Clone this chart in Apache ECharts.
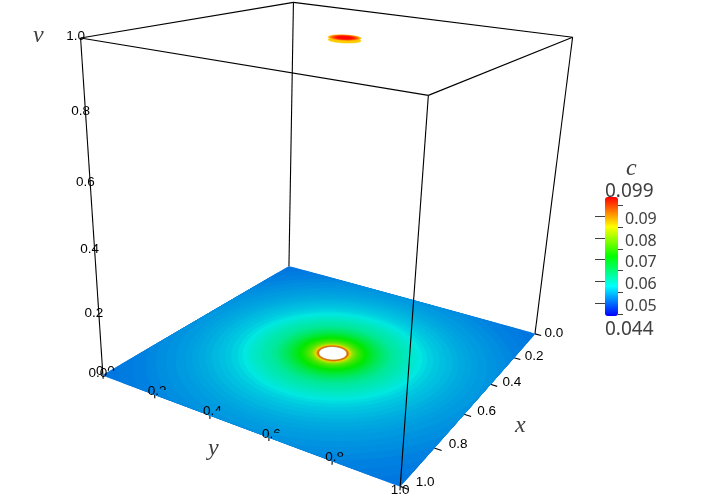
<!DOCTYPE html>
<html><head><meta charset="utf-8">
<style>html,body{margin:0;padding:0;background:#fff}#c{width:718px;height:495px}</style>
<script src="https://cdn.jsdelivr.net/npm/echarts@6/dist/echarts.min.js"></script>
</head><body><div id="c"></div>
<script>
// ---- values ----
const axisValues = [0, 0.2, 0.4, 0.6, 0.8, 1];
const axisLabels = ['0.0', '0.2', '0.4', '0.6', '0.8', '1.0'];
const barMajor = [0.05, 0.06, 0.07, 0.08, 0.09];
const barMinor = [0.045, 0.055, 0.065, 0.075, 0.085, 0.095];
const cMin = 0.044, cMax = 0.099;
// floor (v = 0): c against radius from the tube at x = y = 0.5
const floorRadii = [0.75,0.70,0.66,0.62,0.58,0.55,0.52,0.49,0.46,0.44,0.42,0.40,0.38,0.36,0.34,0.32,0.30,0.285,0.27,0.255,0.24,0.225,0.21,0.195,0.18,0.17,0.16,0.15,0.14,0.13,0.12,0.11,0.10,0.092,0.085,0.078,0.072,0.066,0.061,0.056,0.052,0.049];
const floorC =     [0.0508,0.0510,0.0513,0.0516,0.0520,0.0524,0.0528,0.0531,0.0535,0.0538,0.0541,0.0545,0.0549,0.0553,0.0558,0.0564,0.0571,0.0578,0.0585,0.0593,0.0600,0.0607,0.0614,0.0622,0.0632,0.0640,0.0650,0.0660,0.0672,0.0685,0.0698,0.0712,0.0727,0.0738,0.0750,0.0764,0.0780,0.0797,0.0817,0.0855,0.0890,0.0925];
const holeRadius = [0.045];
// top (v = 1): the small cap of the tube
const rimRadii = [0.046];
const rimC = [0.0880];
const topRadii = [0.046,0.040,0.034,0.028,0.022];
const topC =     [0.0890,0.0925,0.0950,0.0970,0.0985];

// ---- camera: fitted through the corners of the unit box ----
const boxCorners = [
  [1,0,0,103,375],[1,1,0,400,487],[0,1,0,535,333],[0,0,0,289,267],
  [1,0,1,81,38],[1,1,1,428,95],[0,1,1,573,38],[0,0,1,293,2]
];
function fitCamera(pts){
  const A=[],b=[];
  pts.forEach(([x,y,z,u,w])=>{
    A.push([x,y,z,1,0,0,0,0,-u*x,-u*y,-u*z]);b.push(u);
    A.push([0,0,0,0,x,y,z,1,-w*x,-w*y,-w*z]);b.push(w);
  });
  const n=11,M=[];
  for(let i=0;i<n;i++){M.push([]);for(let j=0;j<=n;j++){let s=0;
    for(let k=0;k<A.length;k++)s+=A[k][i]*(j<n?A[k][j]:b[k]);M[i].push(s);}}
  for(let i=0;i<n;i++){let p=i;for(let r=i+1;r<n;r++)if(Math.abs(M[r][i])>Math.abs(M[p][i]))p=r;
    [M[i],M[p]]=[M[p],M[i]];
    for(let r=0;r<n;r++)if(r!==i){const f=M[r][i]/M[i][i];for(let j=i;j<=n;j++)M[r][j]-=f*M[i][j];}}
  return M.map((row,i)=>row[n]/row[i]);
}
const cam=fitCamera(boxCorners);
function project(x,y,z){
  const d=cam[8]*x+cam[9]*y+cam[10]*z+1;
  return [(cam[0]*x+cam[1]*y+cam[2]*z+cam[3])/d,(cam[4]*x+cam[5]*y+cam[6]*z+cam[7])/d];
}
function discPoints(api,r,z){
  const pts=[];
  for(let i=0;i<180;i++){
    const a=i/180*2*Math.PI;
    const x=Math.min(1,Math.max(0,0.5+r*Math.cos(a)));
    const y=Math.min(1,Math.max(0,0.5+r*Math.sin(a)));
    pts.push(api.coord(project(x,y,z)));
  }
  return pts;
}
const zip=(a,b)=>a.map((v,i)=>[v,b[i]]);
const black='#000', grey='#404040';
const labelFont='13.5px "Liberation Sans"';
const mathFont='italic 24px "Liberation Serif"';
const sansFont='"Noto Sans"';
const base={type:'custom',coordinateSystem:'cartesian2d',xAxisIndex:0,yAxisIndex:0,clip:false,silent:true,encode:{x:0,y:1}};

function discSeries(name,radii,vals,z,level){
  return Object.assign({},base,{name,z:level,data:zip(radii,vals),
    renderItem:(p,api)=>{const col=api.visual('color');return {type:'polygon',
      shape:{points:discPoints(api,api.value(0),z)},style:{fill:col,stroke:col,lineWidth:0.5}};}});
}
function lineSeries(name,level,segments){
  return Object.assign({},base,{name,z:level,data:segments.map((s,i)=>[i,i]),
    renderItem:(p,api)=>{const s=segments[api.value(0)];
      const a=api.coord(project(s[0],s[1],s[2])),b=api.coord(project(s[3],s[4],s[5]));
      return {type:'line',shape:{x1:a[0],y1:a[1],x2:b[0],y2:b[1]},style:{stroke:black,lineWidth:1.1}};}});
}
function labelSeries(name,level,at,offset,clipFor){
  return Object.assign({},base,{name,z:level,data:axisValues.map((v,i)=>[i,v]),
    renderItem:(p,api)=>{const i=api.value(0),v=axisValues[i],q=at(v),c=api.coord(project(q[0],q[1],q[2])),o=offset(v);
      const el={type:'text',x:c[0]+o[0],y:c[1]+o[1],style:{text:axisLabels[i],font:labelFont,fill:black,align:'center',verticalAlign:'middle'}};
      if(clipFor&&clipFor(v)) el.clipPath={type:'polygon',shape:{points:[[-13,-9],[13,-9],[13,-1],[1,-1],[1,9],[-13,9]]}};
      return el;}});
}

const topEdges=[[1,0,1,1,1,1],[1,1,1,0,1,1],[0,1,1,0,0,1],[0,0,1,1,0,1]];
const backVerticals=[[1,0,0,1,0,1],[0,1,0,0,1,1],[0,0,0,0,0,1]];
const frontVertical=[[1,1,0,1,1,1]];
const xTicks=axisValues.map(v=>[v,1,0,v,1.022,0]);
const yTicks=axisValues.map(v=>[1,v,0,1,v,-0.012]);
const rainbow=['#0000ff','#00ffff','#00ff00','#ffff00','#ff0000'];
const litRainbow=['#0000e0','#00e8e0','#00e800','#e6e000','#f00000'];

const chart=echarts.init(document.getElementById('c'),null,{renderer:'canvas'});
chart.setOption({
  animation:false,backgroundColor:'#fff',
  grid:[{left:0,top:0,width:718,height:495},{left:605,top:197,width:18,height:119},{left:605,top:200,width:18,height:119}],
  xAxis:[{type:'value',min:0,max:718,show:false,gridIndex:0},{type:'value',min:0,max:1,show:false,gridIndex:1},{type:'value',min:0,max:1,show:false,gridIndex:2}],
  yAxis:[
    {type:'value',min:0,max:495,inverse:true,show:false,gridIndex:0},
    {type:'value',gridIndex:1,position:'right',min:cMin,max:cMax,splitLine:{show:false},axisLine:{show:false},
     axisTick:{show:true,inside:true,length:10,customValues:barMajor,lineStyle:{color:grey,width:1}},
     axisLabel:{show:false}},
    {type:'value',gridIndex:1,position:'right',min:cMin,max:cMax,splitLine:{show:false},axisLine:{show:false},
     axisTick:{show:true,inside:true,length:5,customValues:barMinor,lineStyle:{color:grey,width:1}},
     axisLabel:{show:false}},
    {type:'value',gridIndex:2,position:'right',min:cMin,max:cMax,splitLine:{show:false},axisLine:{show:false},axisTick:{show:false},
     axisLabel:{show:true,margin:2,customValues:barMajor,formatter:v=>v.toFixed(2),fontFamily:sansFont,fontSize:16,color:grey}}
  ],
  visualMap:[
    {type:'continuous',min:cMin,max:cMax,dimension:1,seriesIndex:[6,7],show:true,calculable:false,
     left:605,top:197,itemWidth:13,itemHeight:119,padding:0,text:null,showLabel:false,
     inRange:{color:rainbow},z:5,textStyle:{fontSize:0}},
    {type:'continuous',min:cMin,max:cMax,dimension:1,seriesIndex:[2],show:false,inRange:{color:litRainbow}}
  ],
  series:[
    lineSeries('back verticals',1,backVerticals),
    lineSeries('ticks',1,xTicks.concat(yTicks)),
    discSeries('floor',floorRadii,floorC,0,2),
    Object.assign({},base,{name:'hole',z:3,data:holeRadius.map(r=>[r,r]),
     renderItem:(p,api)=>({type:'polygon',shape:{points:discPoints(api,api.value(0),0)},style:{fill:'#fff',stroke:'#b87000',lineWidth:1}})}),
    labelSeries('y labels',3,v=>[1,v,0],v=>v===1?[0,4]:[2.5,-3.5],v=>v<1),
    lineSeries('front',4,frontVertical.concat(topEdges)),
    discSeries('cap rim',rimRadii,rimC,0.993,4),
    discSeries('cap',topRadii,topC,1,4),
    labelSeries('x labels',5,v=>[v,1,0],v=>[19+6*v,-1-3*v]),
    labelSeries('v labels',5,v=>[1,0,v],v=>[-5,-2])
  ],
  graphic:[
    {type:'text',left:33,top:24,style:{text:'v',font:mathFont,fill:grey}},
    {type:'text',left:515,top:414,style:{text:'x',font:mathFont,fill:grey}},
    {type:'text',left:208,top:437,style:{text:'y',font:mathFont,fill:grey}},
    {type:'text',left:626,top:157,style:{text:'c',font:mathFont,fill:grey}},
    {type:'text',left:605,top:182,style:{text:'0.099',font:'19px '+sansFont,fill:grey}},
    {type:'text',left:605,top:320,style:{text:'0.044',font:'19px '+sansFont,fill:grey}}
  ]
});
</script></body></html>
